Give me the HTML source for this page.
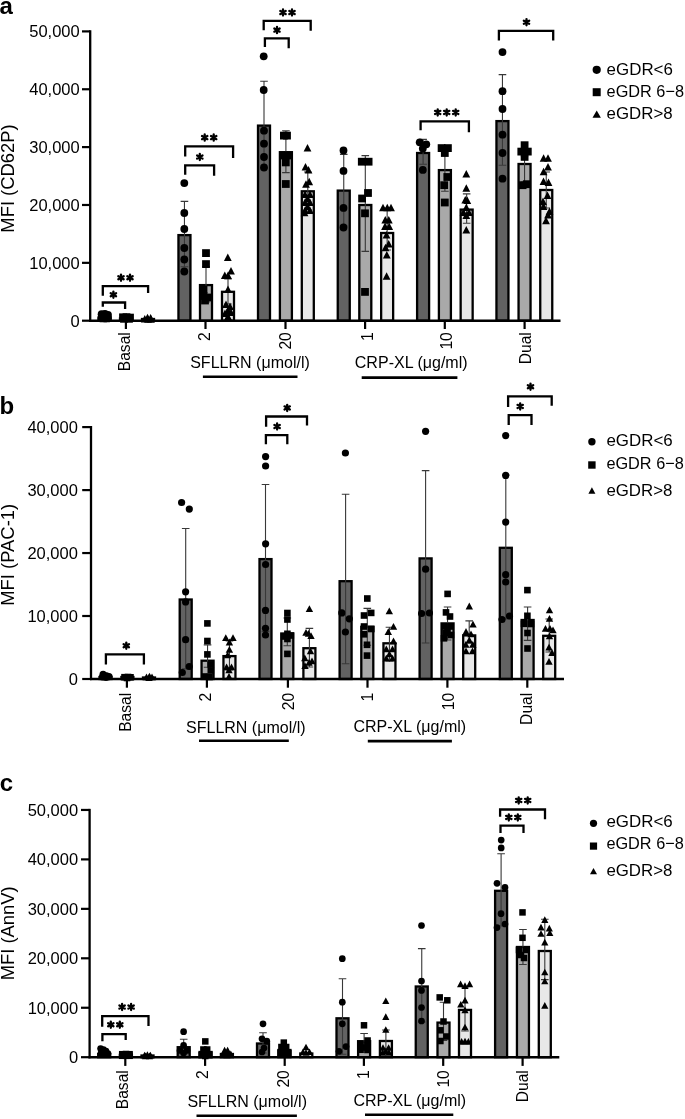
<!DOCTYPE html>
<html><head><meta charset="utf-8"><style>
html,body{margin:0;padding:0;background:#fff;}
svg{display:block;font-family:"Liberation Sans", sans-serif;will-change:transform;}
</style></head><body>
<svg width="685" height="1119" viewBox="0 0 685 1119">
<rect width="685" height="1119" fill="#fff"/>
<line x1="90.2" y1="30.299999999999997" x2="90.2" y2="321.8" stroke="#000" stroke-width="2.3"/>
<line x1="82.0" y1="31.4" x2="90.2" y2="31.4" stroke="#000" stroke-width="2.2"/>
<text x="79.70" y="37.20" font-size="16.5" text-anchor="end" font-weight="normal" >50,000</text>
<line x1="82.0" y1="89.26" x2="90.2" y2="89.26" stroke="#000" stroke-width="2.2"/>
<text x="79.70" y="95.06" font-size="16.5" text-anchor="end" font-weight="normal" >40,000</text>
<line x1="82.0" y1="147.1" x2="90.2" y2="147.1" stroke="#000" stroke-width="2.2"/>
<text x="79.70" y="152.90" font-size="16.5" text-anchor="end" font-weight="normal" >30,000</text>
<line x1="82.0" y1="204.98" x2="90.2" y2="204.98" stroke="#000" stroke-width="2.2"/>
<text x="79.70" y="210.78" font-size="16.5" text-anchor="end" font-weight="normal" >20,000</text>
<line x1="82.0" y1="262.84" x2="90.2" y2="262.84" stroke="#000" stroke-width="2.2"/>
<text x="79.70" y="268.64" font-size="16.5" text-anchor="end" font-weight="normal" >10,000</text>
<line x1="82.0" y1="320.7" x2="90.2" y2="320.7" stroke="#000" stroke-width="2.2"/>
<text x="79.70" y="326.50" font-size="16.5" text-anchor="end" font-weight="normal" >0</text>
<text transform="translate(13.60,178.50) rotate(-90)" font-size="18.4" text-anchor="middle" >MFI (CD62P)</text>
<text x="-0.50" y="13.60" font-size="24" text-anchor="start" font-weight="bold" >a</text>
<rect x="98.50" y="317.50" width="12.00" height="3.20" fill="#626262" stroke="#000" stroke-width="2.3"/>
<rect x="120.00" y="318.50" width="12.00" height="2.20" fill="#a9a9a9" stroke="#000" stroke-width="2.3"/>
<rect x="142.00" y="319.00" width="12.00" height="1.70" fill="#e8e8e8" stroke="#000" stroke-width="2.3"/>
<rect x="178.45" y="235.10" width="12.00" height="85.60" fill="#626262" stroke="#000" stroke-width="2.3"/>
<path d="M184.45,201.40V266.80M180.65,201.40H188.25M180.65,266.80H188.25" stroke="#383838" stroke-width="1.1" fill="none"/>
<rect x="200.00" y="285.10" width="12.00" height="35.60" fill="#a9a9a9" stroke="#000" stroke-width="2.3"/>
<path d="M206.00,266.50V302.00M202.20,266.50H209.80M202.20,302.00H209.80" stroke="#383838" stroke-width="1.1" fill="none"/>
<rect x="222.00" y="291.80" width="12.00" height="28.90" fill="#e8e8e8" stroke="#000" stroke-width="2.3"/>
<path d="M228.00,279.00V304.00M224.20,279.00H231.80M224.20,304.00H231.80" stroke="#383838" stroke-width="1.1" fill="none"/>
<rect x="258.00" y="125.60" width="12.00" height="195.10" fill="#626262" stroke="#000" stroke-width="2.3"/>
<path d="M264.00,81.30V168.10M260.20,81.30H267.80M260.20,168.10H267.80" stroke="#383838" stroke-width="1.1" fill="none"/>
<rect x="279.90" y="152.20" width="12.00" height="168.50" fill="#a9a9a9" stroke="#000" stroke-width="2.3"/>
<path d="M285.90,130.70V172.60M282.10,130.70H289.70M282.10,172.60H289.70" stroke="#383838" stroke-width="1.1" fill="none"/>
<rect x="301.80" y="191.30" width="12.00" height="129.40" fill="#e8e8e8" stroke="#000" stroke-width="2.3"/>
<path d="M307.80,172.00V210.00M304.00,172.00H311.60M304.00,210.00H311.60" stroke="#383838" stroke-width="1.1" fill="none"/>
<rect x="337.75" y="190.60" width="12.00" height="130.10" fill="#626262" stroke="#000" stroke-width="2.3"/>
<path d="M343.75,154.40V226.00M339.95,154.40H347.55M339.95,226.00H347.55" stroke="#383838" stroke-width="1.1" fill="none"/>
<rect x="359.30" y="205.00" width="12.00" height="115.70" fill="#a9a9a9" stroke="#000" stroke-width="2.3"/>
<path d="M365.30,155.60V251.40M361.50,155.60H369.10M361.50,251.40H369.10" stroke="#383838" stroke-width="1.1" fill="none"/>
<rect x="381.15" y="233.00" width="12.00" height="87.70" fill="#e8e8e8" stroke="#000" stroke-width="2.3"/>
<path d="M387.15,208.00V250.00M383.35,208.00H390.95M383.35,250.00H390.95" stroke="#383838" stroke-width="1.1" fill="none"/>
<rect x="417.10" y="153.00" width="12.00" height="167.70" fill="#626262" stroke="#000" stroke-width="2.3"/>
<path d="M423.10,139.40V164.20M419.30,139.40H426.90M419.30,164.20H426.90" stroke="#383838" stroke-width="1.1" fill="none"/>
<rect x="438.90" y="170.10" width="12.00" height="150.60" fill="#a9a9a9" stroke="#000" stroke-width="2.3"/>
<path d="M444.90,150.00V191.30M441.10,150.00H448.70M441.10,191.30H448.70" stroke="#383838" stroke-width="1.1" fill="none"/>
<rect x="460.65" y="209.60" width="12.00" height="111.10" fill="#e8e8e8" stroke="#000" stroke-width="2.3"/>
<path d="M466.65,193.90V223.20M462.85,193.90H470.45M462.85,223.20H470.45" stroke="#383838" stroke-width="1.1" fill="none"/>
<rect x="496.45" y="121.10" width="12.00" height="199.60" fill="#626262" stroke="#000" stroke-width="2.3"/>
<path d="M502.45,74.60V165.30M498.65,74.60H506.25M498.65,165.30H506.25" stroke="#383838" stroke-width="1.1" fill="none"/>
<rect x="518.55" y="164.00" width="12.00" height="156.70" fill="#a9a9a9" stroke="#000" stroke-width="2.3"/>
<path d="M524.55,156.00V182.00M520.75,156.00H528.35M520.75,182.00H528.35" stroke="#383838" stroke-width="1.1" fill="none"/>
<rect x="540.25" y="190.00" width="12.00" height="130.70" fill="#e8e8e8" stroke="#000" stroke-width="2.3"/>
<path d="M546.25,172.00V208.00M542.45,172.00H550.05M542.45,208.00H550.05" stroke="#383838" stroke-width="1.1" fill="none"/>
<line x1="89.10000000000001" y1="320.7" x2="560.5" y2="320.7" stroke="#000" stroke-width="2.4"/>
<line x1="125.9" y1="320.7" x2="125.9" y2="329.0" stroke="#000" stroke-width="2.2"/>
<text transform="translate(130.20,332.20) rotate(-90)" font-size="15.6" text-anchor="end" >Basal</text>
<line x1="205.5" y1="320.7" x2="205.5" y2="329.0" stroke="#000" stroke-width="2.2"/>
<text transform="translate(209.80,332.20) rotate(-90)" font-size="15.6" text-anchor="end" >2</text>
<line x1="285.5" y1="320.7" x2="285.5" y2="329.0" stroke="#000" stroke-width="2.2"/>
<text transform="translate(290.60,332.20) rotate(-90)" font-size="15.6" text-anchor="end" >20</text>
<line x1="365.1" y1="320.7" x2="365.1" y2="329.0" stroke="#000" stroke-width="2.2"/>
<text transform="translate(372.60,332.20) rotate(-90)" font-size="15.6" text-anchor="end" >1</text>
<line x1="444.8" y1="320.7" x2="444.8" y2="329.0" stroke="#000" stroke-width="2.2"/>
<text transform="translate(451.50,332.20) rotate(-90)" font-size="15.6" text-anchor="end" >10</text>
<line x1="524.6" y1="320.7" x2="524.6" y2="329.0" stroke="#000" stroke-width="2.2"/>
<text transform="translate(531.10,332.20) rotate(-90)" font-size="15.6" text-anchor="end" >Dual</text>
<g fill="#000">
<circle cx="101.60" cy="314.20" r="3.90"/>
<circle cx="105.00" cy="313.80" r="3.90"/>
<circle cx="108.00" cy="315.00" r="3.90"/>
<circle cx="101.60" cy="318.40" r="3.90"/>
<circle cx="105.00" cy="318.60" r="3.90"/>
<circle cx="108.00" cy="318.40" r="3.90"/>
<rect x="119.10" y="313.40" width="7.80" height="7.80"/>
<rect x="122.60" y="313.30" width="7.80" height="7.80"/>
<rect x="126.10" y="313.70" width="7.80" height="7.80"/>
<rect x="120.10" y="314.90" width="7.80" height="7.80"/>
<rect x="125.10" y="314.90" width="7.80" height="7.80"/>
<path d="M144.80,315.10L148.70,322.60L140.90,322.60Z"/>
<path d="M147.50,313.70L151.40,321.20L143.60,321.20Z"/>
<path d="M150.60,314.10L154.50,321.60L146.70,321.60Z"/>
<path d="M148.00,315.30L151.90,322.80L144.10,322.80Z"/>
<path d="M151.00,315.30L154.90,322.80L147.10,322.80Z"/>
<circle cx="184.30" cy="183.10" r="3.90"/>
<circle cx="184.30" cy="213.00" r="3.90"/>
<circle cx="184.30" cy="229.00" r="3.90"/>
<circle cx="184.30" cy="248.00" r="3.90"/>
<circle cx="184.30" cy="259.50" r="3.90"/>
<circle cx="184.30" cy="271.50" r="3.90"/>
<rect x="202.10" y="249.20" width="7.80" height="7.80"/>
<rect x="202.10" y="260.20" width="7.80" height="7.80"/>
<rect x="199.60" y="285.60" width="7.80" height="7.80"/>
<rect x="199.60" y="292.10" width="7.80" height="7.80"/>
<rect x="205.10" y="293.60" width="7.80" height="7.80"/>
<rect x="201.10" y="296.60" width="7.80" height="7.80"/>
<rect x="199.10" y="288.60" width="7.80" height="7.80"/>
<path d="M227.80,253.50L231.70,261.00L223.90,261.00Z"/>
<path d="M224.80,271.50L228.70,279.00L220.90,279.00Z"/>
<path d="M228.00,271.50L231.90,279.00L224.10,279.00Z"/>
<path d="M231.00,267.10L234.90,274.60L227.10,274.60Z"/>
<path d="M228.00,285.50L231.90,293.00L224.10,293.00Z"/>
<path d="M226.00,300.50L229.90,308.00L222.10,308.00Z"/>
<path d="M230.00,302.50L233.90,310.00L226.10,310.00Z"/>
<path d="M228.00,306.50L231.90,314.00L224.10,314.00Z"/>
<path d="M225.00,309.50L228.90,317.00L221.10,317.00Z"/>
<path d="M231.00,308.50L234.90,316.00L227.10,316.00Z"/>
<path d="M228.00,312.50L231.90,320.00L224.10,320.00Z"/>
<circle cx="263.70" cy="56.30" r="3.90"/>
<circle cx="263.70" cy="90.00" r="3.90"/>
<circle cx="264.00" cy="130.70" r="3.90"/>
<circle cx="264.00" cy="143.70" r="3.90"/>
<circle cx="264.00" cy="157.00" r="3.90"/>
<circle cx="264.00" cy="167.50" r="3.90"/>
<rect x="280.00" y="131.70" width="7.80" height="7.80"/>
<rect x="283.10" y="131.70" width="7.80" height="7.80"/>
<rect x="280.10" y="151.60" width="7.80" height="7.80"/>
<rect x="284.10" y="151.60" width="7.80" height="7.80"/>
<rect x="281.90" y="158.50" width="7.80" height="7.80"/>
<rect x="281.90" y="180.10" width="7.80" height="7.80"/>
<path d="M307.50,144.10L311.40,151.60L303.60,151.60Z"/>
<path d="M305.50,163.00L309.40,170.50L301.60,170.50Z"/>
<path d="M308.50,166.00L312.40,173.50L304.60,173.50Z"/>
<path d="M306.00,180.30L309.90,187.80L302.10,187.80Z"/>
<path d="M309.20,177.80L313.10,185.30L305.30,185.30Z"/>
<path d="M305.00,190.50L308.90,198.00L301.10,198.00Z"/>
<path d="M310.00,190.50L313.90,198.00L306.10,198.00Z"/>
<path d="M307.50,194.50L311.40,202.00L303.60,202.00Z"/>
<path d="M305.00,198.50L308.90,206.00L301.10,206.00Z"/>
<path d="M310.00,198.50L313.90,206.00L306.10,206.00Z"/>
<path d="M307.50,202.50L311.40,210.00L303.60,210.00Z"/>
<path d="M305.00,206.50L308.90,214.00L301.10,214.00Z"/>
<path d="M310.00,206.50L313.90,214.00L306.10,214.00Z"/>
<path d="M304.50,208.70L308.40,216.20L300.60,216.20Z"/>
<circle cx="343.50" cy="150.50" r="3.90"/>
<circle cx="343.50" cy="170.90" r="3.90"/>
<circle cx="343.50" cy="207.90" r="3.90"/>
<circle cx="343.50" cy="227.50" r="3.90"/>
<rect x="357.90" y="157.80" width="7.80" height="7.80"/>
<rect x="364.70" y="157.80" width="7.80" height="7.80"/>
<rect x="364.10" y="189.10" width="7.80" height="7.80"/>
<rect x="358.20" y="194.60" width="7.80" height="7.80"/>
<rect x="361.10" y="209.40" width="7.80" height="7.80"/>
<rect x="361.10" y="288.00" width="7.80" height="7.80"/>
<path d="M383.00,203.80L386.90,211.30L379.10,211.30Z"/>
<path d="M387.30,203.80L391.20,211.30L383.40,211.30Z"/>
<path d="M391.00,203.80L394.90,211.30L387.10,211.30Z"/>
<path d="M385.30,216.00L389.20,223.50L381.40,223.50Z"/>
<path d="M388.80,216.00L392.70,223.50L384.90,223.50Z"/>
<path d="M385.00,222.50L388.90,230.00L381.10,230.00Z"/>
<path d="M389.20,222.50L393.10,230.00L385.30,230.00Z"/>
<path d="M386.50,231.00L390.40,238.50L382.60,238.50Z"/>
<path d="M388.70,240.00L392.60,247.50L384.80,247.50Z"/>
<path d="M385.50,243.80L389.40,251.30L381.60,251.30Z"/>
<path d="M386.80,251.00L390.70,258.50L382.90,258.50Z"/>
<path d="M386.60,272.30L390.50,279.80L382.70,279.80Z"/>
<circle cx="419.70" cy="142.30" r="3.90"/>
<circle cx="426.30" cy="144.30" r="3.90"/>
<circle cx="422.80" cy="148.60" r="3.90"/>
<circle cx="422.80" cy="169.90" r="3.90"/>
<rect x="437.70" y="144.20" width="7.80" height="7.80"/>
<rect x="444.00" y="144.20" width="7.80" height="7.80"/>
<rect x="440.90" y="149.10" width="7.80" height="7.80"/>
<rect x="443.40" y="173.10" width="7.80" height="7.80"/>
<rect x="440.30" y="181.30" width="7.80" height="7.80"/>
<rect x="440.90" y="198.60" width="7.80" height="7.80"/>
<path d="M466.30,170.00L470.20,177.50L462.40,177.50Z"/>
<path d="M466.30,184.20L470.20,191.70L462.40,191.70Z"/>
<path d="M465.30,196.00L469.20,203.50L461.40,203.50Z"/>
<path d="M467.30,196.50L471.20,204.00L463.40,204.00Z"/>
<path d="M466.30,203.50L470.20,211.00L462.40,211.00Z"/>
<path d="M463.50,208.50L467.40,216.00L459.60,216.00Z"/>
<path d="M469.00,208.50L472.90,216.00L465.10,216.00Z"/>
<path d="M466.30,211.50L470.20,219.00L462.40,219.00Z"/>
<path d="M466.30,226.10L470.20,233.60L462.40,233.60Z"/>
<circle cx="502.50" cy="52.10" r="3.90"/>
<circle cx="502.50" cy="91.20" r="3.90"/>
<circle cx="502.50" cy="109.00" r="3.90"/>
<circle cx="502.50" cy="134.70" r="3.90"/>
<circle cx="502.50" cy="153.00" r="3.90"/>
<circle cx="502.50" cy="178.70" r="3.90"/>
<rect x="520.70" y="141.30" width="7.80" height="7.80"/>
<rect x="517.40" y="147.70" width="7.80" height="7.80"/>
<rect x="523.90" y="147.70" width="7.80" height="7.80"/>
<rect x="520.70" y="153.00" width="7.80" height="7.80"/>
<rect x="518.70" y="181.30" width="7.80" height="7.80"/>
<rect x="522.90" y="180.30" width="7.80" height="7.80"/>
<path d="M543.60,154.30L547.50,161.80L539.70,161.80Z"/>
<path d="M548.00,154.30L551.90,161.80L544.10,161.80Z"/>
<path d="M548.00,163.00L551.90,170.50L544.10,170.50Z"/>
<path d="M543.60,167.70L547.50,175.20L539.70,175.20Z"/>
<path d="M543.50,177.50L547.40,185.00L539.60,185.00Z"/>
<path d="M548.50,178.50L552.40,186.00L544.60,186.00Z"/>
<path d="M547.50,191.50L551.40,199.00L543.60,199.00Z"/>
<path d="M543.00,197.50L546.90,205.00L539.10,205.00Z"/>
<path d="M543.50,202.50L547.40,210.00L539.60,210.00Z"/>
<path d="M549.50,207.50L553.40,215.00L545.60,215.00Z"/>
<path d="M548.00,211.00L551.90,218.50L544.10,218.50Z"/>
<path d="M546.00,216.70L549.90,224.20L542.10,224.20Z"/>
</g>
<path d="M102.80,306.70V302.50H125.10V309.10" stroke="#000" stroke-width="2.3" fill="none" stroke-linejoin="miter"/>
<path d="M113.40,297.80L113.40,291.60M110.72,296.25L116.08,293.15M110.72,293.15L116.08,296.25" stroke="#000" stroke-width="2.3" stroke-linecap="round" fill="none"/>
<path d="M102.80,295.70V286.10H148.10V293.10" stroke="#000" stroke-width="2.3" fill="none" stroke-linejoin="miter"/>
<path d="M121.00,280.80L121.00,274.60M118.32,279.25L123.68,276.15M118.32,276.15L123.68,279.25" stroke="#000" stroke-width="2.3" stroke-linecap="round" fill="none"/>
<path d="M130.00,280.80L130.00,274.60M127.32,279.25L132.68,276.15M127.32,276.15L132.68,279.25" stroke="#000" stroke-width="2.3" stroke-linecap="round" fill="none"/>
<path d="M185.20,174.80V165.40H214.10V175.70" stroke="#000" stroke-width="2.3" fill="none" stroke-linejoin="miter"/>
<path d="M199.80,160.10L199.80,153.90M197.12,158.55L202.48,155.45M197.12,155.45L202.48,158.55" stroke="#000" stroke-width="2.3" stroke-linecap="round" fill="none"/>
<path d="M185.20,156.50V146.40H233.10V158.00" stroke="#000" stroke-width="2.3" fill="none" stroke-linejoin="miter"/>
<path d="M204.70,140.70L204.70,134.50M202.02,139.15L207.38,136.05M202.02,136.05L207.38,139.15" stroke="#000" stroke-width="2.3" stroke-linecap="round" fill="none"/>
<path d="M213.70,140.70L213.70,134.50M211.02,139.15L216.38,136.05M211.02,136.05L216.38,139.15" stroke="#000" stroke-width="2.3" stroke-linecap="round" fill="none"/>
<path d="M263.70,30.30V20.80H310.70V30.70" stroke="#000" stroke-width="2.3" fill="none" stroke-linejoin="miter"/>
<path d="M283.00,15.60L283.00,9.40M280.32,14.05L285.68,10.95M280.32,10.95L285.68,14.05" stroke="#000" stroke-width="2.3" stroke-linecap="round" fill="none"/>
<path d="M292.00,15.60L292.00,9.40M289.32,14.05L294.68,10.95M289.32,10.95L294.68,14.05" stroke="#000" stroke-width="2.3" stroke-linecap="round" fill="none"/>
<path d="M264.90,47.10V38.40H288.70V48.30" stroke="#000" stroke-width="2.3" fill="none" stroke-linejoin="miter"/>
<path d="M277.00,33.20L277.00,27.00M274.32,31.65L279.68,28.55M274.32,28.55L279.68,31.65" stroke="#000" stroke-width="2.3" stroke-linecap="round" fill="none"/>
<path d="M420.60,130.20V121.30H468.90V132.20" stroke="#000" stroke-width="2.3" fill="none" stroke-linejoin="miter"/>
<path d="M437.70,115.50L437.70,109.30M435.02,113.95L440.38,110.85M435.02,110.85L440.38,113.95" stroke="#000" stroke-width="2.3" stroke-linecap="round" fill="none"/>
<path d="M446.70,115.50L446.70,109.30M444.02,113.95L449.38,110.85M444.02,110.85L449.38,113.95" stroke="#000" stroke-width="2.3" stroke-linecap="round" fill="none"/>
<path d="M455.70,115.50L455.70,109.30M453.02,113.95L458.38,110.85M453.02,110.85L458.38,113.95" stroke="#000" stroke-width="2.3" stroke-linecap="round" fill="none"/>
<path d="M498.90,40.40V30.90H553.20V40.40" stroke="#000" stroke-width="2.3" fill="none" stroke-linejoin="miter"/>
<path d="M526.50,25.30L526.50,19.10M523.82,23.75L529.18,20.65M523.82,20.65L529.18,23.75" stroke="#000" stroke-width="2.3" stroke-linecap="round" fill="none"/>
<text x="190.20" y="367.50" font-size="16.4" text-anchor="start" font-weight="normal"  textLength="119.6" lengthAdjust="spacingAndGlyphs">SFLLRN (μmol/l)</text>
<line x1="202.9" y1="376.8" x2="297.5" y2="376.8" stroke="#000" stroke-width="2.6"/>
<text x="354.80" y="368.00" font-size="16.4" text-anchor="start" font-weight="normal"  textLength="112.8" lengthAdjust="spacingAndGlyphs">CRP-XL (μg/ml)</text>
<line x1="361.7" y1="377.6" x2="457.4" y2="377.6" stroke="#000" stroke-width="2.6"/>
<circle cx="596.70" cy="69.80" r="4.10"/>
<rect x="592.70" y="88.20" width="8.00" height="8.00"/>
<path d="M596.70,110.46L600.90,117.86L592.50,117.86Z"/>
<text x="606.60" y="74.80" font-size="16.8" text-anchor="start" font-weight="normal" textLength="66.3" lengthAdjust="spacingAndGlyphs">eGDR&lt;6</text>
<text x="606.60" y="96.50" font-size="16.8" text-anchor="start" font-weight="normal" textLength="77.4" lengthAdjust="spacingAndGlyphs">eGDR 6−8</text>
<text x="606.60" y="118.70" font-size="16.8" text-anchor="start" font-weight="normal" textLength="66.0" lengthAdjust="spacingAndGlyphs">eGDR&gt;8</text>
<line x1="91.0" y1="426.0" x2="91.0" y2="680.1" stroke="#000" stroke-width="2.3"/>
<line x1="82.2" y1="427.1" x2="91.0" y2="427.1" stroke="#000" stroke-width="2.2"/>
<text x="77.90" y="432.90" font-size="16.5" text-anchor="end" font-weight="normal" >40,000</text>
<line x1="82.2" y1="490.1" x2="91.0" y2="490.1" stroke="#000" stroke-width="2.2"/>
<text x="77.90" y="495.90" font-size="16.5" text-anchor="end" font-weight="normal" >30,000</text>
<line x1="82.2" y1="553.05" x2="91.0" y2="553.05" stroke="#000" stroke-width="2.2"/>
<text x="77.90" y="558.85" font-size="16.5" text-anchor="end" font-weight="normal" >20,000</text>
<line x1="82.2" y1="616.0" x2="91.0" y2="616.0" stroke="#000" stroke-width="2.2"/>
<text x="77.90" y="621.80" font-size="16.5" text-anchor="end" font-weight="normal" >10,000</text>
<line x1="82.2" y1="679.0" x2="91.0" y2="679.0" stroke="#000" stroke-width="2.2"/>
<text x="77.90" y="684.80" font-size="16.5" text-anchor="end" font-weight="normal" >0</text>
<text transform="translate(13.60,554.80) rotate(-90)" font-size="18.4" text-anchor="middle" >MFI (PAC-1)</text>
<text x="-0.60" y="413.80" font-size="24" text-anchor="start" font-weight="bold" >b</text>
<rect x="99.50" y="677.00" width="12.00" height="2.00" fill="#626262" stroke="#000" stroke-width="2.3"/>
<rect x="121.40" y="677.00" width="12.00" height="2.00" fill="#a9a9a9" stroke="#000" stroke-width="2.3"/>
<rect x="143.00" y="677.50" width="12.00" height="1.50" fill="#e8e8e8" stroke="#000" stroke-width="2.3"/>
<rect x="179.70" y="599.50" width="12.00" height="79.50" fill="#626262" stroke="#000" stroke-width="2.3"/>
<path d="M185.70,528.50V668.90M181.90,528.50H189.50M181.90,668.90H189.50" stroke="#383838" stroke-width="1.1" fill="none"/>
<rect x="201.55" y="660.70" width="12.00" height="18.30" fill="#a9a9a9" stroke="#000" stroke-width="2.3"/>
<path d="M207.55,644.90V667.30M203.75,644.90H211.35M203.75,667.30H211.35" stroke="#383838" stroke-width="1.1" fill="none"/>
<rect x="223.45" y="656.10" width="12.00" height="22.90" fill="#e8e8e8" stroke="#000" stroke-width="2.3"/>
<path d="M229.45,641.00V670.00M225.65,641.00H233.25M225.65,670.00H233.25" stroke="#383838" stroke-width="1.1" fill="none"/>
<rect x="259.50" y="559.10" width="12.00" height="119.90" fill="#626262" stroke="#000" stroke-width="2.3"/>
<path d="M265.50,484.50V631.50M261.70,484.50H269.30M261.70,631.50H269.30" stroke="#383838" stroke-width="1.1" fill="none"/>
<rect x="281.30" y="633.50" width="12.00" height="45.50" fill="#a9a9a9" stroke="#000" stroke-width="2.3"/>
<path d="M287.30,618.00V645.80M283.50,618.00H291.10M283.50,645.80H291.10" stroke="#383838" stroke-width="1.1" fill="none"/>
<rect x="303.40" y="648.20" width="12.00" height="30.80" fill="#e8e8e8" stroke="#000" stroke-width="2.3"/>
<path d="M309.40,628.40V667.00M305.60,628.40H313.20M305.60,667.00H313.20" stroke="#383838" stroke-width="1.1" fill="none"/>
<rect x="339.60" y="581.20" width="12.00" height="97.80" fill="#626262" stroke="#000" stroke-width="2.3"/>
<path d="M345.60,494.30V663.80M341.80,494.30H349.40M341.80,663.80H349.40" stroke="#383838" stroke-width="1.1" fill="none"/>
<rect x="361.30" y="626.80" width="12.00" height="52.20" fill="#a9a9a9" stroke="#000" stroke-width="2.3"/>
<path d="M367.30,608.40V645.30M363.50,608.40H371.10M363.50,645.30H371.10" stroke="#383838" stroke-width="1.1" fill="none"/>
<rect x="383.45" y="643.30" width="12.00" height="35.70" fill="#e8e8e8" stroke="#000" stroke-width="2.3"/>
<path d="M389.45,627.30V661.00M385.65,627.30H393.25M385.65,661.00H393.25" stroke="#383838" stroke-width="1.1" fill="none"/>
<rect x="419.60" y="558.40" width="12.00" height="120.60" fill="#626262" stroke="#000" stroke-width="2.3"/>
<path d="M425.60,470.60V643.00M421.80,470.60H429.40M421.80,643.00H429.40" stroke="#383838" stroke-width="1.1" fill="none"/>
<rect x="441.55" y="623.40" width="12.00" height="55.60" fill="#a9a9a9" stroke="#000" stroke-width="2.3"/>
<path d="M447.55,607.00V640.00M443.75,607.00H451.35M443.75,640.00H451.35" stroke="#383838" stroke-width="1.1" fill="none"/>
<rect x="463.20" y="635.40" width="12.00" height="43.60" fill="#e8e8e8" stroke="#000" stroke-width="2.3"/>
<path d="M469.20,620.90V643.30M465.40,620.90H473.00M465.40,643.30H473.00" stroke="#383838" stroke-width="1.1" fill="none"/>
<rect x="499.80" y="547.80" width="12.00" height="131.20" fill="#626262" stroke="#000" stroke-width="2.3"/>
<path d="M505.80,475.00V619.00M502.00,475.00H509.60M502.00,619.00H509.60" stroke="#383838" stroke-width="1.1" fill="none"/>
<rect x="521.60" y="620.00" width="12.00" height="59.00" fill="#a9a9a9" stroke="#000" stroke-width="2.3"/>
<path d="M527.60,607.00V640.40M523.80,607.00H531.40M523.80,640.40H531.40" stroke="#383838" stroke-width="1.1" fill="none"/>
<rect x="543.20" y="635.80" width="12.00" height="43.20" fill="#e8e8e8" stroke="#000" stroke-width="2.3"/>
<path d="M549.20,619.00V652.00M545.40,619.00H553.00M545.40,652.00H553.00" stroke="#383838" stroke-width="1.1" fill="none"/>
<line x1="89.9" y1="679.0" x2="564.0" y2="679.0" stroke="#000" stroke-width="2.4"/>
<line x1="126.9" y1="679.0" x2="126.9" y2="687.7" stroke="#000" stroke-width="2.2"/>
<text transform="translate(131.40,692.80) rotate(-90)" font-size="15.6" text-anchor="end" >Basal</text>
<line x1="206.9" y1="679.0" x2="206.9" y2="687.7" stroke="#000" stroke-width="2.2"/>
<text transform="translate(211.40,692.80) rotate(-90)" font-size="15.6" text-anchor="end" >2</text>
<line x1="287.9" y1="679.0" x2="287.9" y2="687.7" stroke="#000" stroke-width="2.2"/>
<text transform="translate(294.00,692.80) rotate(-90)" font-size="15.6" text-anchor="end" >20</text>
<line x1="367.5" y1="679.0" x2="367.5" y2="687.7" stroke="#000" stroke-width="2.2"/>
<text transform="translate(373.00,692.80) rotate(-90)" font-size="15.6" text-anchor="end" >1</text>
<line x1="447.4" y1="679.0" x2="447.4" y2="687.7" stroke="#000" stroke-width="2.2"/>
<text transform="translate(454.30,692.80) rotate(-90)" font-size="15.6" text-anchor="end" >10</text>
<line x1="527.3" y1="679.0" x2="527.3" y2="687.7" stroke="#000" stroke-width="2.2"/>
<text transform="translate(531.80,692.80) rotate(-90)" font-size="15.6" text-anchor="end" >Dual</text>
<g fill="#000">
<circle cx="103.10" cy="674.40" r="3.60"/>
<circle cx="106.50" cy="675.80" r="3.60"/>
<circle cx="109.00" cy="676.60" r="3.60"/>
<circle cx="102.50" cy="677.00" r="3.60"/>
<circle cx="106.00" cy="677.50" r="3.60"/>
<rect x="121.20" y="673.90" width="6.60" height="6.60"/>
<rect x="124.70" y="673.70" width="6.60" height="6.60"/>
<rect x="127.20" y="674.00" width="6.60" height="6.60"/>
<rect x="123.70" y="674.70" width="6.60" height="6.60"/>
<path d="M146.50,673.52L150.20,680.32L142.80,680.32Z"/>
<path d="M149.50,672.72L153.20,679.52L145.80,679.52Z"/>
<path d="M152.00,673.52L155.70,680.32L148.30,680.32Z"/>
<path d="M149.00,674.12L152.70,680.92L145.30,680.92Z"/>
<circle cx="181.60" cy="502.50" r="3.60"/>
<circle cx="189.30" cy="509.10" r="3.60"/>
<circle cx="185.60" cy="591.80" r="3.60"/>
<circle cx="185.60" cy="601.90" r="3.60"/>
<circle cx="185.60" cy="639.70" r="3.60"/>
<circle cx="189.20" cy="666.50" r="3.60"/>
<circle cx="182.30" cy="672.50" r="3.60"/>
<rect x="204.10" y="620.10" width="6.60" height="6.60"/>
<rect x="204.10" y="637.70" width="6.60" height="6.60"/>
<rect x="204.10" y="651.10" width="6.60" height="6.60"/>
<rect x="207.50" y="661.20" width="6.60" height="6.60"/>
<rect x="207.50" y="667.20" width="6.60" height="6.60"/>
<rect x="201.20" y="673.20" width="6.60" height="6.60"/>
<rect x="206.20" y="673.70" width="6.60" height="6.60"/>
<path d="M225.80,634.22L229.50,641.02L222.10,641.02Z"/>
<path d="M233.00,634.22L236.70,641.02L229.30,641.02Z"/>
<path d="M229.40,638.62L233.10,645.42L225.70,645.42Z"/>
<path d="M229.40,645.92L233.10,652.72L225.70,652.72Z"/>
<path d="M227.60,651.42L231.30,658.22L223.90,658.22Z"/>
<path d="M226.60,663.52L230.30,670.32L222.90,670.32Z"/>
<path d="M231.50,663.52L235.20,670.32L227.80,670.32Z"/>
<path d="M229.00,666.42L232.70,673.22L225.30,673.22Z"/>
<path d="M229.00,672.92L232.70,679.72L225.30,679.72Z"/>
<circle cx="265.60" cy="456.60" r="3.60"/>
<circle cx="265.60" cy="466.00" r="3.60"/>
<circle cx="265.60" cy="543.80" r="3.60"/>
<circle cx="265.60" cy="564.50" r="3.60"/>
<circle cx="265.50" cy="610.40" r="3.60"/>
<circle cx="265.50" cy="628.30" r="3.60"/>
<circle cx="265.50" cy="635.00" r="3.60"/>
<rect x="284.10" y="609.70" width="6.60" height="6.60"/>
<rect x="284.10" y="616.20" width="6.60" height="6.60"/>
<rect x="280.70" y="633.20" width="6.60" height="6.60"/>
<rect x="284.10" y="630.50" width="6.60" height="6.60"/>
<rect x="287.50" y="632.20" width="6.60" height="6.60"/>
<rect x="284.10" y="635.70" width="6.60" height="6.60"/>
<rect x="284.10" y="650.60" width="6.60" height="6.60"/>
<path d="M309.40,605.32L313.10,612.12L305.70,612.12Z"/>
<path d="M306.00,628.92L309.70,635.72L302.30,635.72Z"/>
<path d="M311.00,632.22L314.70,639.02L307.30,639.02Z"/>
<path d="M308.50,629.92L312.20,636.72L304.80,636.72Z"/>
<path d="M310.50,647.42L314.20,654.22L306.80,654.22Z"/>
<path d="M304.80,654.42L308.50,661.22L301.10,661.22Z"/>
<path d="M312.00,657.42L315.70,664.22L308.30,664.22Z"/>
<path d="M305.00,662.22L308.70,669.02L301.30,669.02Z"/>
<path d="M309.00,658.92L312.70,665.72L305.30,665.72Z"/>
<circle cx="345.40" cy="453.00" r="3.60"/>
<circle cx="341.80" cy="612.90" r="3.60"/>
<circle cx="349.30" cy="618.80" r="3.60"/>
<circle cx="345.40" cy="632.00" r="3.60"/>
<rect x="364.00" y="595.20" width="6.60" height="6.60"/>
<rect x="360.70" y="612.20" width="6.60" height="6.60"/>
<rect x="367.90" y="609.60" width="6.60" height="6.60"/>
<rect x="360.70" y="623.20" width="6.60" height="6.60"/>
<rect x="368.00" y="625.70" width="6.60" height="6.60"/>
<rect x="360.70" y="631.00" width="6.60" height="6.60"/>
<rect x="363.70" y="641.50" width="6.60" height="6.60"/>
<rect x="363.70" y="652.30" width="6.60" height="6.60"/>
<path d="M389.30,607.42L393.00,614.22L385.60,614.22Z"/>
<path d="M393.50,622.92L397.20,629.72L389.80,629.72Z"/>
<path d="M388.30,628.32L392.00,635.12L384.60,635.12Z"/>
<path d="M393.50,637.42L397.20,644.22L389.80,644.22Z"/>
<path d="M386.30,645.42L390.00,652.22L382.60,652.22Z"/>
<path d="M392.50,645.42L396.20,652.22L388.80,652.22Z"/>
<path d="M389.40,650.42L393.10,657.22L385.70,657.22Z"/>
<path d="M386.30,654.72L390.00,661.52L382.60,661.52Z"/>
<path d="M392.50,654.72L396.20,661.52L388.80,661.52Z"/>
<circle cx="425.60" cy="431.30" r="3.60"/>
<circle cx="425.60" cy="569.20" r="3.60"/>
<circle cx="421.60" cy="613.50" r="3.60"/>
<circle cx="429.40" cy="613.00" r="3.60"/>
<rect x="444.30" y="590.60" width="6.60" height="6.60"/>
<rect x="442.70" y="609.10" width="6.60" height="6.60"/>
<rect x="446.70" y="613.20" width="6.60" height="6.60"/>
<rect x="441.20" y="623.20" width="6.60" height="6.60"/>
<rect x="447.20" y="623.20" width="6.60" height="6.60"/>
<rect x="444.20" y="626.70" width="6.60" height="6.60"/>
<rect x="447.70" y="631.70" width="6.60" height="6.60"/>
<rect x="442.20" y="629.70" width="6.60" height="6.60"/>
<rect x="440.70" y="635.00" width="6.60" height="6.60"/>
<path d="M469.30,602.62L473.00,609.42L465.60,609.42Z"/>
<path d="M473.00,620.72L476.70,627.52L469.30,627.52Z"/>
<path d="M466.00,628.12L469.70,634.92L462.30,634.92Z"/>
<path d="M471.00,630.42L474.70,637.22L467.30,637.22Z"/>
<path d="M469.30,636.42L473.00,643.22L465.60,643.22Z"/>
<path d="M465.80,640.92L469.50,647.72L462.10,647.72Z"/>
<path d="M472.80,640.92L476.50,647.72L469.10,647.72Z"/>
<path d="M466.00,647.42L469.70,654.22L462.30,654.22Z"/>
<path d="M472.50,647.42L476.20,654.22L468.80,654.22Z"/>
<circle cx="505.70" cy="435.60" r="3.60"/>
<circle cx="505.70" cy="475.40" r="3.60"/>
<circle cx="505.70" cy="522.10" r="3.60"/>
<circle cx="505.70" cy="574.70" r="3.60"/>
<circle cx="505.70" cy="582.00" r="3.60"/>
<circle cx="502.00" cy="619.50" r="3.60"/>
<circle cx="509.50" cy="616.00" r="3.60"/>
<rect x="524.10" y="586.80" width="6.60" height="6.60"/>
<rect x="524.10" y="612.50" width="6.60" height="6.60"/>
<rect x="520.70" y="620.50" width="6.60" height="6.60"/>
<rect x="527.70" y="620.70" width="6.60" height="6.60"/>
<rect x="524.20" y="629.70" width="6.60" height="6.60"/>
<rect x="524.20" y="645.20" width="6.60" height="6.60"/>
<path d="M549.50,606.52L553.20,613.32L545.80,613.32Z"/>
<path d="M549.50,614.92L553.20,621.72L545.80,621.72Z"/>
<path d="M545.50,624.92L549.20,631.72L541.80,631.72Z"/>
<path d="M550.00,624.92L553.70,631.72L546.30,631.72Z"/>
<path d="M553.00,626.42L556.70,633.22L549.30,633.22Z"/>
<path d="M549.50,632.42L553.20,639.22L545.80,639.22Z"/>
<path d="M549.00,643.72L552.70,650.52L545.30,650.52Z"/>
<path d="M552.00,649.12L555.70,655.92L548.30,655.92Z"/>
<path d="M549.00,657.92L552.70,664.72L545.30,664.72Z"/>
</g>
<path d="M105.90,664.40V654.40H143.90V664.40" stroke="#000" stroke-width="2.3" fill="none" stroke-linejoin="miter"/>
<path d="M126.30,648.80L126.30,642.60M123.62,647.25L128.98,644.15M123.62,644.15L128.98,647.25" stroke="#000" stroke-width="2.3" stroke-linecap="round" fill="none"/>
<path d="M266.10,426.70V416.50H307.00V425.50" stroke="#000" stroke-width="2.3" fill="none" stroke-linejoin="miter"/>
<path d="M287.20,411.00L287.20,404.80M284.52,409.45L289.88,406.35M284.52,406.35L289.88,409.45" stroke="#000" stroke-width="2.3" stroke-linecap="round" fill="none"/>
<path d="M265.90,444.20V435.20H287.30V444.20" stroke="#000" stroke-width="2.3" fill="none" stroke-linejoin="miter"/>
<path d="M277.10,429.60L277.10,423.40M274.42,428.05L279.78,424.95M274.42,424.95L279.78,428.05" stroke="#000" stroke-width="2.3" stroke-linecap="round" fill="none"/>
<path d="M508.10,407.00V396.30H551.70V405.80" stroke="#000" stroke-width="2.3" fill="none" stroke-linejoin="miter"/>
<path d="M530.50,389.80L530.50,383.60M527.82,388.25L533.18,385.15M527.82,385.15L533.18,388.25" stroke="#000" stroke-width="2.3" stroke-linecap="round" fill="none"/>
<path d="M508.70,425.10V415.20H531.50V425.10" stroke="#000" stroke-width="2.3" fill="none" stroke-linejoin="miter"/>
<path d="M520.20,409.50L520.20,403.30M517.52,407.95L522.88,404.85M517.52,404.85L522.88,407.95" stroke="#000" stroke-width="2.3" stroke-linecap="round" fill="none"/>
<text x="186.00" y="732.60" font-size="16.4" text-anchor="start" font-weight="normal"  textLength="119.6" lengthAdjust="spacingAndGlyphs">SFLLRN (μmol/l)</text>
<line x1="199.0" y1="740.8" x2="288.8" y2="740.8" stroke="#000" stroke-width="2.6"/>
<text x="353.40" y="732.40" font-size="16.4" text-anchor="start" font-weight="normal"  textLength="112.8" lengthAdjust="spacingAndGlyphs">CRP-XL (μg/ml)</text>
<line x1="367.8" y1="741.1" x2="451.9" y2="741.1" stroke="#000" stroke-width="2.6"/>
<circle cx="591.90" cy="441.70" r="3.70"/>
<rect x="588.20" y="461.30" width="7.40" height="7.40"/>
<path d="M591.90,487.36L595.40,493.76L588.40,493.76Z"/>
<text x="606.40" y="446.00" font-size="16.8" text-anchor="start" font-weight="normal" textLength="66.3" lengthAdjust="spacingAndGlyphs">eGDR&lt;6</text>
<text x="606.40" y="468.50" font-size="16.8" text-anchor="start" font-weight="normal" textLength="77.4" lengthAdjust="spacingAndGlyphs">eGDR 6−8</text>
<text x="606.40" y="495.50" font-size="16.8" text-anchor="start" font-weight="normal" textLength="66.0" lengthAdjust="spacingAndGlyphs">eGDR&gt;8</text>
<line x1="89.6" y1="808.85" x2="89.6" y2="1058.3" stroke="#000" stroke-width="2.3"/>
<line x1="81.0" y1="809.95" x2="89.6" y2="809.95" stroke="#000" stroke-width="2.2"/>
<text x="78.10" y="815.75" font-size="16.5" text-anchor="end" font-weight="normal" >50,000</text>
<line x1="81.0" y1="859.4" x2="89.6" y2="859.4" stroke="#000" stroke-width="2.2"/>
<text x="78.10" y="865.20" font-size="16.5" text-anchor="end" font-weight="normal" >40,000</text>
<line x1="81.0" y1="908.85" x2="89.6" y2="908.85" stroke="#000" stroke-width="2.2"/>
<text x="78.10" y="914.65" font-size="16.5" text-anchor="end" font-weight="normal" >30,000</text>
<line x1="81.0" y1="958.3" x2="89.6" y2="958.3" stroke="#000" stroke-width="2.2"/>
<text x="78.10" y="964.10" font-size="16.5" text-anchor="end" font-weight="normal" >20,000</text>
<line x1="81.0" y1="1007.75" x2="89.6" y2="1007.75" stroke="#000" stroke-width="2.2"/>
<text x="78.10" y="1013.55" font-size="16.5" text-anchor="end" font-weight="normal" >10,000</text>
<line x1="81.0" y1="1057.2" x2="89.6" y2="1057.2" stroke="#000" stroke-width="2.2"/>
<text x="78.10" y="1063.00" font-size="16.5" text-anchor="end" font-weight="normal" >0</text>
<text transform="translate(13.60,933.30) rotate(-90)" font-size="18.4" text-anchor="middle" >MFI (AnnV)</text>
<text x="-0.20" y="790.60" font-size="24" text-anchor="start" font-weight="bold" >c</text>
<rect x="98.20" y="1054.00" width="12.00" height="3.20" fill="#626262" stroke="#000" stroke-width="2.3"/>
<rect x="119.90" y="1055.00" width="12.00" height="2.20" fill="#a9a9a9" stroke="#000" stroke-width="2.3"/>
<rect x="141.50" y="1055.50" width="12.00" height="1.70" fill="#e8e8e8" stroke="#000" stroke-width="2.3"/>
<rect x="177.70" y="1047.20" width="12.00" height="10.00" fill="#626262" stroke="#000" stroke-width="2.3"/>
<path d="M183.70,1039.30V1048.00M179.90,1039.30H187.50M179.90,1048.00H187.50" stroke="#383838" stroke-width="1.1" fill="none"/>
<rect x="199.60" y="1052.00" width="12.00" height="5.20" fill="#a9a9a9" stroke="#000" stroke-width="2.3"/>
<rect x="220.90" y="1054.00" width="12.00" height="3.20" fill="#e8e8e8" stroke="#000" stroke-width="2.3"/>
<rect x="257.00" y="1043.50" width="12.00" height="13.70" fill="#626262" stroke="#000" stroke-width="2.3"/>
<path d="M263.00,1032.80V1053.00M259.20,1032.80H266.80M259.20,1053.00H266.80" stroke="#383838" stroke-width="1.1" fill="none"/>
<rect x="278.40" y="1050.00" width="12.00" height="7.20" fill="#a9a9a9" stroke="#000" stroke-width="2.3"/>
<rect x="300.30" y="1053.50" width="12.00" height="3.70" fill="#e8e8e8" stroke="#000" stroke-width="2.3"/>
<rect x="336.50" y="1018.30" width="12.00" height="38.90" fill="#626262" stroke="#000" stroke-width="2.3"/>
<path d="M342.50,978.80V1054.30M338.70,978.80H346.30M338.70,1054.30H346.30" stroke="#383838" stroke-width="1.1" fill="none"/>
<rect x="358.10" y="1041.20" width="12.00" height="16.00" fill="#a9a9a9" stroke="#000" stroke-width="2.3"/>
<path d="M364.10,1033.50V1048.50M360.30,1033.50H367.90M360.30,1048.50H367.90" stroke="#383838" stroke-width="1.1" fill="none"/>
<rect x="379.90" y="1041.00" width="12.00" height="16.20" fill="#e8e8e8" stroke="#000" stroke-width="2.3"/>
<path d="M385.90,1030.00V1054.00M382.10,1030.00H389.70M382.10,1054.00H389.70" stroke="#383838" stroke-width="1.1" fill="none"/>
<rect x="415.75" y="986.50" width="12.00" height="70.70" fill="#626262" stroke="#000" stroke-width="2.3"/>
<path d="M421.75,948.60V1022.00M417.95,948.60H425.55M417.95,1022.00H425.55" stroke="#383838" stroke-width="1.1" fill="none"/>
<rect x="437.50" y="1022.60" width="12.00" height="34.60" fill="#a9a9a9" stroke="#000" stroke-width="2.3"/>
<path d="M443.50,1002.20V1040.40M439.70,1002.20H447.30M439.70,1040.40H447.30" stroke="#383838" stroke-width="1.1" fill="none"/>
<rect x="459.00" y="1009.90" width="12.00" height="47.30" fill="#e8e8e8" stroke="#000" stroke-width="2.3"/>
<path d="M465.00,987.00V1031.00M461.20,987.00H468.80M461.20,1031.00H468.80" stroke="#383838" stroke-width="1.1" fill="none"/>
<rect x="495.10" y="890.80" width="12.00" height="166.40" fill="#626262" stroke="#000" stroke-width="2.3"/>
<path d="M501.10,853.80V926.00M497.30,853.80H504.90M497.30,926.00H504.90" stroke="#383838" stroke-width="1.1" fill="none"/>
<rect x="516.95" y="947.00" width="12.00" height="110.20" fill="#a9a9a9" stroke="#000" stroke-width="2.3"/>
<path d="M522.95,929.50V964.50M519.15,929.50H526.75M519.15,964.50H526.75" stroke="#383838" stroke-width="1.1" fill="none"/>
<rect x="538.80" y="951.00" width="12.00" height="106.20" fill="#e8e8e8" stroke="#000" stroke-width="2.3"/>
<path d="M544.80,919.30V979.60M541.00,919.30H548.60M541.00,979.60H548.60" stroke="#383838" stroke-width="1.1" fill="none"/>
<line x1="88.5" y1="1057.2" x2="559.3" y2="1057.2" stroke="#000" stroke-width="2.4"/>
<line x1="125.3" y1="1057.2" x2="125.3" y2="1065.9" stroke="#000" stroke-width="2.2"/>
<text transform="translate(127.90,1070.20) rotate(-90)" font-size="15.6" text-anchor="end" >Basal</text>
<line x1="205.1" y1="1057.2" x2="205.1" y2="1065.9" stroke="#000" stroke-width="2.2"/>
<text transform="translate(208.00,1070.20) rotate(-90)" font-size="15.6" text-anchor="end" >2</text>
<line x1="284.7" y1="1057.2" x2="284.7" y2="1065.9" stroke="#000" stroke-width="2.2"/>
<text transform="translate(288.50,1070.20) rotate(-90)" font-size="15.6" text-anchor="end" >20</text>
<line x1="363.9" y1="1057.2" x2="363.9" y2="1065.9" stroke="#000" stroke-width="2.2"/>
<text transform="translate(368.70,1070.20) rotate(-90)" font-size="15.6" text-anchor="end" >1</text>
<line x1="443.2" y1="1057.2" x2="443.2" y2="1065.9" stroke="#000" stroke-width="2.2"/>
<text transform="translate(449.40,1070.20) rotate(-90)" font-size="15.6" text-anchor="end" >10</text>
<line x1="522.6" y1="1057.2" x2="522.6" y2="1065.9" stroke="#000" stroke-width="2.2"/>
<text transform="translate(528.40,1070.20) rotate(-90)" font-size="15.6" text-anchor="end" >Dual</text>
<g fill="#000">
<circle cx="100.60" cy="1048.60" r="3.35"/>
<circle cx="103.50" cy="1049.50" r="3.35"/>
<circle cx="106.00" cy="1051.00" r="3.35"/>
<circle cx="108.00" cy="1053.50" r="3.35"/>
<circle cx="101.00" cy="1053.00" r="3.35"/>
<circle cx="104.50" cy="1053.50" r="3.35"/>
<rect x="118.95" y="1050.95" width="6.50" height="6.50"/>
<rect x="122.75" y="1050.75" width="6.50" height="6.50"/>
<rect x="126.35" y="1050.95" width="6.50" height="6.50"/>
<rect x="118.95" y="1052.55" width="6.50" height="6.50"/>
<rect x="122.75" y="1052.55" width="6.50" height="6.50"/>
<rect x="126.35" y="1052.55" width="6.50" height="6.50"/>
<path d="M144.60,1051.64L148.20,1058.24L141.00,1058.24Z"/>
<path d="M147.40,1051.34L151.00,1057.94L143.80,1057.94Z"/>
<path d="M150.40,1051.64L154.00,1058.24L146.80,1058.24Z"/>
<path d="M145.50,1052.54L149.10,1059.14L141.90,1059.14Z"/>
<path d="M149.50,1052.54L153.10,1059.14L145.90,1059.14Z"/>
<circle cx="183.60" cy="1031.70" r="3.35"/>
<circle cx="183.60" cy="1045.40" r="3.35"/>
<circle cx="180.00" cy="1050.50" r="3.35"/>
<circle cx="187.00" cy="1050.50" r="3.35"/>
<circle cx="183.60" cy="1053.00" r="3.35"/>
<rect x="202.05" y="1038.15" width="6.50" height="6.50"/>
<rect x="200.15" y="1046.25" width="6.50" height="6.50"/>
<rect x="203.95" y="1046.25" width="6.50" height="6.50"/>
<rect x="198.35" y="1051.75" width="6.50" height="6.50"/>
<rect x="205.95" y="1051.75" width="6.50" height="6.50"/>
<rect x="202.05" y="1052.75" width="6.50" height="6.50"/>
<path d="M224.60,1046.84L228.20,1053.44L221.00,1053.44Z"/>
<path d="M227.60,1046.84L231.20,1053.44L224.00,1053.44Z"/>
<path d="M223.50,1050.54L227.10,1057.14L219.90,1057.14Z"/>
<path d="M230.80,1050.54L234.40,1057.14L227.20,1057.14Z"/>
<path d="M227.00,1051.54L230.60,1058.14L223.40,1058.14Z"/>
<circle cx="263.00" cy="1023.80" r="3.35"/>
<circle cx="262.00" cy="1038.80" r="3.35"/>
<circle cx="266.80" cy="1041.20" r="3.35"/>
<circle cx="264.00" cy="1048.00" r="3.35"/>
<circle cx="262.00" cy="1052.00" r="3.35"/>
<rect x="280.55" y="1039.35" width="6.50" height="6.50"/>
<rect x="278.15" y="1043.75" width="6.50" height="6.50"/>
<rect x="282.95" y="1043.75" width="6.50" height="6.50"/>
<rect x="277.35" y="1049.75" width="6.50" height="6.50"/>
<rect x="285.15" y="1049.75" width="6.50" height="6.50"/>
<rect x="281.25" y="1049.75" width="6.50" height="6.50"/>
<path d="M306.00,1043.64L309.60,1050.24L302.40,1050.24Z"/>
<path d="M303.00,1048.44L306.60,1055.04L299.40,1055.04Z"/>
<path d="M309.50,1048.44L313.10,1055.04L305.90,1055.04Z"/>
<path d="M306.00,1049.24L309.60,1055.84L302.40,1055.84Z"/>
<circle cx="342.30" cy="958.70" r="3.35"/>
<circle cx="342.30" cy="1002.20" r="3.35"/>
<circle cx="342.30" cy="1023.80" r="3.35"/>
<circle cx="339.00" cy="1051.30" r="3.35"/>
<circle cx="346.00" cy="1046.60" r="3.35"/>
<rect x="360.75" y="1022.05" width="6.50" height="6.50"/>
<rect x="364.35" y="1037.25" width="6.50" height="6.50"/>
<rect x="357.35" y="1041.55" width="6.50" height="6.50"/>
<rect x="364.15" y="1041.75" width="6.50" height="6.50"/>
<rect x="357.35" y="1046.55" width="6.50" height="6.50"/>
<rect x="364.15" y="1046.75" width="6.50" height="6.50"/>
<rect x="360.75" y="1044.25" width="6.50" height="6.50"/>
<path d="M385.80,997.44L389.40,1004.04L382.20,1004.04Z"/>
<path d="M385.80,1013.34L389.40,1019.94L382.20,1019.94Z"/>
<path d="M385.80,1026.24L389.40,1032.84L382.20,1032.84Z"/>
<path d="M383.00,1044.24L386.60,1050.84L379.40,1050.84Z"/>
<path d="M388.60,1044.24L392.20,1050.84L385.00,1050.84Z"/>
<path d="M385.80,1047.54L389.40,1054.14L382.20,1054.14Z"/>
<path d="M382.60,1049.04L386.20,1055.64L379.00,1055.64Z"/>
<path d="M389.00,1049.04L392.60,1055.64L385.40,1055.64Z"/>
<circle cx="421.50" cy="925.50" r="3.35"/>
<circle cx="421.50" cy="981.00" r="3.35"/>
<circle cx="421.50" cy="990.40" r="3.35"/>
<circle cx="421.50" cy="1007.50" r="3.35"/>
<circle cx="421.50" cy="1021.00" r="3.35"/>
<rect x="436.45" y="994.15" width="6.50" height="6.50"/>
<rect x="444.05" y="997.05" width="6.50" height="6.50"/>
<rect x="440.25" y="1018.25" width="6.50" height="6.50"/>
<rect x="437.15" y="1027.05" width="6.50" height="6.50"/>
<rect x="443.15" y="1033.25" width="6.50" height="6.50"/>
<rect x="437.15" y="1037.75" width="6.50" height="6.50"/>
<path d="M460.60,980.54L464.20,987.14L457.00,987.14Z"/>
<path d="M465.00,982.34L468.60,988.94L461.40,988.94Z"/>
<path d="M469.60,980.54L473.20,987.14L466.00,987.14Z"/>
<path d="M465.00,996.84L468.60,1003.44L461.40,1003.44Z"/>
<path d="M460.80,1000.94L464.40,1007.54L457.20,1007.54Z"/>
<path d="M465.00,1006.54L468.60,1013.14L461.40,1013.14Z"/>
<path d="M465.00,1023.74L468.60,1030.34L461.40,1030.34Z"/>
<path d="M461.60,1038.04L465.20,1044.64L458.00,1044.64Z"/>
<path d="M465.00,1037.64L468.60,1044.24L461.40,1044.24Z"/>
<path d="M468.40,1038.04L472.00,1044.64L464.80,1044.64Z"/>
<circle cx="501.20" cy="840.10" r="3.35"/>
<circle cx="501.20" cy="847.90" r="3.35"/>
<circle cx="497.00" cy="883.30" r="3.35"/>
<circle cx="505.00" cy="887.40" r="3.35"/>
<circle cx="501.00" cy="913.70" r="3.35"/>
<circle cx="497.00" cy="927.60" r="3.35"/>
<circle cx="505.00" cy="924.00" r="3.35"/>
<rect x="519.25" y="909.15" width="6.50" height="6.50"/>
<rect x="519.25" y="934.55" width="6.50" height="6.50"/>
<rect x="515.75" y="946.75" width="6.50" height="6.50"/>
<rect x="522.75" y="946.75" width="6.50" height="6.50"/>
<rect x="517.75" y="951.75" width="6.50" height="6.50"/>
<rect x="520.75" y="954.75" width="6.50" height="6.50"/>
<path d="M544.80,916.34L548.40,922.94L541.20,922.94Z"/>
<path d="M541.00,923.84L544.60,930.44L537.40,930.44Z"/>
<path d="M549.30,924.84L552.90,931.44L545.70,931.44Z"/>
<path d="M541.00,930.24L544.60,936.84L537.40,936.84Z"/>
<path d="M549.80,929.44L553.40,936.04L546.20,936.04Z"/>
<path d="M544.80,938.84L548.40,945.44L541.20,945.44Z"/>
<path d="M544.80,968.74L548.40,975.34L541.20,975.34Z"/>
<path d="M544.80,977.64L548.40,984.24L541.20,984.24Z"/>
<path d="M544.80,1002.04L548.40,1008.64L541.20,1008.64Z"/>
</g>
<path d="M102.20,1026.70V1016.20H148.50V1025.90" stroke="#000" stroke-width="2.3" fill="none" stroke-linejoin="miter"/>
<path d="M122.10,1010.10L122.10,1003.90M119.42,1008.55L124.78,1005.45M119.42,1005.45L124.78,1008.55" stroke="#000" stroke-width="2.3" stroke-linecap="round" fill="none"/>
<path d="M131.10,1010.10L131.10,1003.90M128.42,1008.55L133.78,1005.45M128.42,1005.45L133.78,1008.55" stroke="#000" stroke-width="2.3" stroke-linecap="round" fill="none"/>
<path d="M102.40,1041.20V1034.10H125.70V1039.90" stroke="#000" stroke-width="2.3" fill="none" stroke-linejoin="miter"/>
<path d="M110.80,1027.80L110.80,1021.60M108.12,1026.25L113.48,1023.15M108.12,1023.15L113.48,1026.25" stroke="#000" stroke-width="2.3" stroke-linecap="round" fill="none"/>
<path d="M119.80,1027.80L119.80,1021.60M117.12,1026.25L122.48,1023.15M117.12,1023.15L122.48,1026.25" stroke="#000" stroke-width="2.3" stroke-linecap="round" fill="none"/>
<path d="M500.10,816.70V809.50H545.00V819.30" stroke="#000" stroke-width="2.3" fill="none" stroke-linejoin="miter"/>
<path d="M518.70,803.50L518.70,797.30M516.02,801.95L521.38,798.85M516.02,798.85L521.38,801.95" stroke="#000" stroke-width="2.3" stroke-linecap="round" fill="none"/>
<path d="M527.70,803.50L527.70,797.30M525.02,801.95L530.38,798.85M525.02,798.85L530.38,801.95" stroke="#000" stroke-width="2.3" stroke-linecap="round" fill="none"/>
<path d="M500.50,833.10V825.60H523.50V833.10" stroke="#000" stroke-width="2.3" fill="none" stroke-linejoin="miter"/>
<path d="M508.80,820.50L508.80,814.30M506.12,818.95L511.48,815.85M506.12,815.85L511.48,818.95" stroke="#000" stroke-width="2.3" stroke-linecap="round" fill="none"/>
<path d="M517.80,820.50L517.80,814.30M515.12,818.95L520.48,815.85M515.12,815.85L520.48,818.95" stroke="#000" stroke-width="2.3" stroke-linecap="round" fill="none"/>
<text x="187.40" y="1107.00" font-size="16.4" text-anchor="start" font-weight="normal"  textLength="119.6" lengthAdjust="spacingAndGlyphs">SFLLRN (μmol/l)</text>
<line x1="196.5" y1="1115.8" x2="296.9" y2="1115.8" stroke="#000" stroke-width="2.6"/>
<text x="353.40" y="1106.00" font-size="16.4" text-anchor="start" font-weight="normal"  textLength="112.8" lengthAdjust="spacingAndGlyphs">CRP-XL (μg/ml)</text>
<line x1="365.0" y1="1114.8" x2="453.3" y2="1114.8" stroke="#000" stroke-width="2.6"/>
<circle cx="593.50" cy="823.30" r="3.60"/>
<rect x="589.90" y="842.50" width="7.20" height="7.20"/>
<path d="M593.50,867.96L597.00,874.36L590.00,874.36Z"/>
<text x="606.40" y="826.80" font-size="16.8" text-anchor="start" font-weight="normal" textLength="66.3" lengthAdjust="spacingAndGlyphs">eGDR&lt;6</text>
<text x="606.40" y="849.30" font-size="16.8" text-anchor="start" font-weight="normal" textLength="77.4" lengthAdjust="spacingAndGlyphs">eGDR 6−8</text>
<text x="606.40" y="875.80" font-size="16.8" text-anchor="start" font-weight="normal" textLength="66.0" lengthAdjust="spacingAndGlyphs">eGDR&gt;8</text>
</svg></body></html>
